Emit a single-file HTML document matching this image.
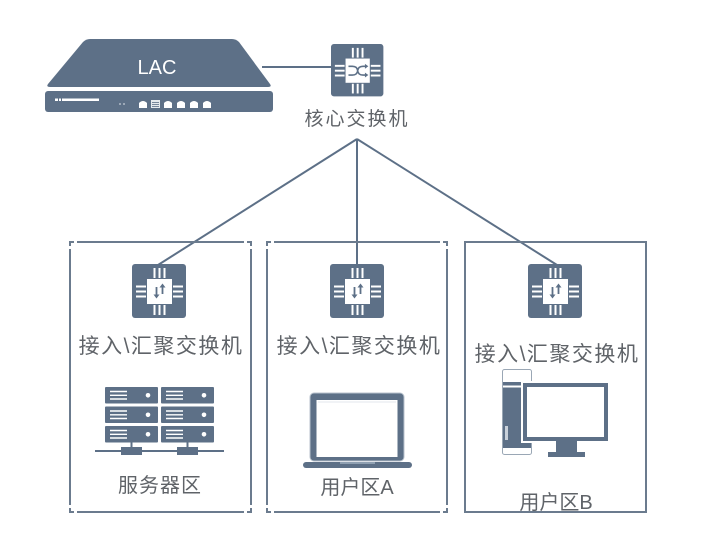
<!DOCTYPE html>
<html><head><meta charset="utf-8"><style>
html,body{margin:0;padding:0;background:#fff;}
svg{display:block;}
text{font-family:"Liberation Sans","Noto Sans CJK SC",sans-serif;fill:#5f6368;}
</style></head><body>
<svg width="705" height="553" viewBox="0 0 705 553" xmlns="http://www.w3.org/2000/svg">
<defs>
<g id="chip">
  <rect x="0" y="0" width="54" height="54" rx="3" fill="#5d7087"/>
  <rect x="15" y="15" width="25" height="25" fill="#fff"/>
  <g stroke="#fff" stroke-width="2">
    <line x1="22.5" y1="4" x2="22.5" y2="14"/><line x1="27.5" y1="4" x2="27.5" y2="14"/><line x1="32.5" y1="4" x2="32.5" y2="14"/>
    <line x1="22.5" y1="41" x2="22.5" y2="51"/><line x1="27.5" y1="41" x2="27.5" y2="51"/><line x1="32.5" y1="41" x2="32.5" y2="51"/>
    <line x1="4" y1="22.5" x2="14" y2="22.5"/><line x1="4" y1="27.5" x2="14" y2="27.5"/><line x1="4" y1="32.5" x2="14" y2="32.5"/>
    <line x1="41" y1="22.5" x2="51" y2="22.5"/><line x1="41" y1="27.5" x2="51" y2="27.5"/><line x1="41" y1="32.5" x2="51" y2="32.5"/>
  </g>
</g>
<g id="updown">
  <g stroke="#5d7087" stroke-width="1.8" fill="none">
    <line x1="24.5" y1="23" x2="24.5" y2="32"/>
    <line x1="30.5" y1="21" x2="30.5" y2="30"/>
  </g>
  <path d="M21.5 30.5 L24.5 34.5 L27.5 30.5 Z" fill="#5d7087"/>
  <path d="M27.5 23.5 L30.5 19.5 L33.5 23.5 Z" fill="#5d7087"/>
</g>
<g id="srv">
  <rect x="0" y="0" width="53" height="16.5" rx="1" fill="#5d7087"/>
  <g stroke="#fff" stroke-width="1.4">
    <line x1="5" y1="4.5" x2="22" y2="4.5"/><line x1="5" y1="8.3" x2="22" y2="8.3"/><line x1="5" y1="12" x2="22" y2="12"/>
  </g>
  <circle cx="43" cy="8.3" r="2.3" fill="#fff"/>
</g>
</defs>

<!-- LAC device -->
<path d="M90 39 L232 39 Q236 39 239 42 L270 84 Q272 87 268 87 L50 87 Q46 87 48 84 L83 42 Q86 39 90 39 Z" fill="#5d7087"/>
<rect x="45" y="91" width="228" height="21" rx="3" fill="#5d7087"/>
<text x="157" y="74" font-size="20" text-anchor="middle" style="fill:#fff">LAC</text>
<rect x="55" y="98.5" width="44" height="2.5" fill="#fff"/>
<g fill="#5d7087"><rect x="58" y="98.5" width="1" height="2.5"/><rect x="61" y="98.5" width="1" height="2.5"/></g>
<circle cx="120" cy="104" r="0.9" fill="#c9d1da"/><circle cx="124" cy="104" r="0.9" fill="#c9d1da"/>
<g fill="#fff">
  <path d="M139 108 L139 103 Q143 99 147 103 L147 108 Z"/>
  <rect x="151" y="100" width="9" height="8" fill="#e6eaee"/>
  <path d="M164 108 L164 103 Q168 99 172 103 L172 108 Z"/>
  <path d="M177 108 L177 103 Q181 99 185 103 L185 108 Z"/>
  <path d="M190 108 L190 103 Q194 99 198 103 L198 108 Z"/>
  <path d="M203 108 L203 103 Q207 99 211 103 L211 108 Z"/>
</g>
<g stroke="#5d7087" stroke-width="0.8"><line x1="152" y1="102.5" x2="159" y2="102.5"/><line x1="152" y1="104.5" x2="159" y2="104.5"/><line x1="152" y1="106.5" x2="159" y2="106.5"/></g>

<!-- connectors -->
<g stroke="#5d7087" stroke-width="2" fill="none">
  <line x1="262" y1="67" x2="332" y2="67"/>
  <line x1="357" y1="139" x2="158" y2="265"/>
  <line x1="357" y1="139" x2="357" y2="265"/>
  <line x1="357" y1="139" x2="557" y2="265"/>
</g>

<!-- core switch -->
<g transform="translate(331,44) scale(0.97)">
  <use href="#chip"/>
  <g stroke="#5d7087" stroke-width="1.6" fill="none">
    <path d="M18 23 L22 23 Q27 23 27.5 27.5 Q28 32 33 32 L36 32"/>
    <path d="M18 32 L22 32 Q27 32 27.5 27.5 Q28 23 33 23 L36 23"/>
  </g>
  <path d="M35 20.5 L38.5 23 L35 25.5 Z" fill="#5d7087"/>
  <path d="M35 29.5 L38.5 32 L35 34.5 Z" fill="#5d7087"/>
</g>
<text x="357" y="125" font-size="19" text-anchor="middle" style="letter-spacing:2px">核心交换机</text>

<!-- boxes -->
<g stroke="#6b7b8e" stroke-width="2" fill="none">
  <rect x="70" y="242" width="181" height="270"/>
  <rect x="267" y="242" width="180" height="270"/>
  <rect x="465" y="242" width="181" height="270"/>
</g>
<!-- corner gaps for dashed-corner boxes -->
<g fill="#fff">
  <rect x="74" y="240" width="3" height="4"/><rect x="244" y="240" width="3" height="4"/>
  <rect x="74" y="510" width="3" height="4"/><rect x="244" y="510" width="3" height="4"/>
  <rect x="68" y="246" width="4" height="3"/><rect x="249" y="246" width="4" height="3"/>
  <rect x="68" y="505" width="4" height="3"/><rect x="249" y="505" width="4" height="3"/>
  <rect x="271" y="240" width="3" height="4"/><rect x="440" y="240" width="3" height="4"/>
  <rect x="271" y="510" width="3" height="4"/><rect x="440" y="510" width="3" height="4"/>
  <rect x="265" y="246" width="4" height="3"/><rect x="445" y="246" width="4" height="3"/>
  <rect x="265" y="505" width="4" height="3"/><rect x="445" y="505" width="4" height="3"/>
</g>

<!-- access switches -->
<g transform="translate(132,264)"><use href="#chip"/><use href="#updown"/></g>
<g transform="translate(330,264)"><use href="#chip"/><use href="#updown"/></g>
<g transform="translate(528,264)"><use href="#chip"/><use href="#updown"/></g>

<text x="161" y="353" font-size="21" text-anchor="middle" style="letter-spacing:1.5px">接入\汇聚交换机</text>
<text x="359" y="353" font-size="21" text-anchor="middle" style="letter-spacing:1.5px">接入\汇聚交换机</text>
<text x="557" y="361" font-size="21" text-anchor="middle" style="letter-spacing:1.5px">接入\汇聚交换机</text>

<!-- servers -->
<use href="#srv" x="105" y="387"/>
<use href="#srv" x="105" y="406.5"/>
<use href="#srv" x="105" y="426"/>
<use href="#srv" x="161" y="387"/>
<use href="#srv" x="161" y="406.5"/>
<use href="#srv" x="161" y="426"/>
<g stroke="#5d7087" stroke-width="2">
  <line x1="95" y1="451" x2="224" y2="451"/>
  <line x1="131.5" y1="442" x2="131.5" y2="448"/>
  <line x1="187.5" y1="442" x2="187.5" y2="448"/>
</g>
<rect x="121" y="447" width="21" height="8" fill="#5d7087"/>
<rect x="177" y="447" width="21" height="8" fill="#5d7087"/>
<text x="160" y="492" font-size="20" text-anchor="middle" style="letter-spacing:1px">服务器区</text>

<!-- laptop -->
<rect x="310" y="393" width="94" height="68" rx="4" fill="#5d7087" stroke="#b8c2cd" stroke-width="1"/>
<rect x="316.5" y="400" width="81" height="57" fill="#fff"/>
<line x1="318" y1="402" x2="396" y2="402" stroke="#e3e7ec" stroke-width="1"/>
<rect x="303" y="462" width="109" height="6" rx="3" fill="#5d7087"/>
<rect x="340" y="462" width="35" height="2" fill="#8fa0b2"/>
<text x="357" y="494" font-size="20" text-anchor="middle">用户区A</text>

<!-- desktop -->
<rect x="502.5" y="369.5" width="29" height="85" rx="2" fill="#fff" stroke="#9aa7b5" stroke-width="1"/>
<rect x="503" y="382" width="28" height="66" fill="#5d7087"/>
<rect x="503" y="385.5" width="28" height="2" fill="#fff"/>
<rect x="505" y="426" width="3" height="14" fill="#c9d1da"/>
<rect x="521" y="381" width="89" height="62" fill="#fff"/>
<rect x="523" y="383" width="85" height="58" fill="#5d7087"/>
<rect x="527" y="387" width="77" height="50" fill="#fff"/>
<rect x="556" y="441" width="21" height="11" fill="#5d7087"/>
<rect x="548" y="452" width="37" height="5" fill="#5d7087"/>
<text x="556" y="509" font-size="20" text-anchor="middle">用户区B</text>
</svg>
</body></html>
